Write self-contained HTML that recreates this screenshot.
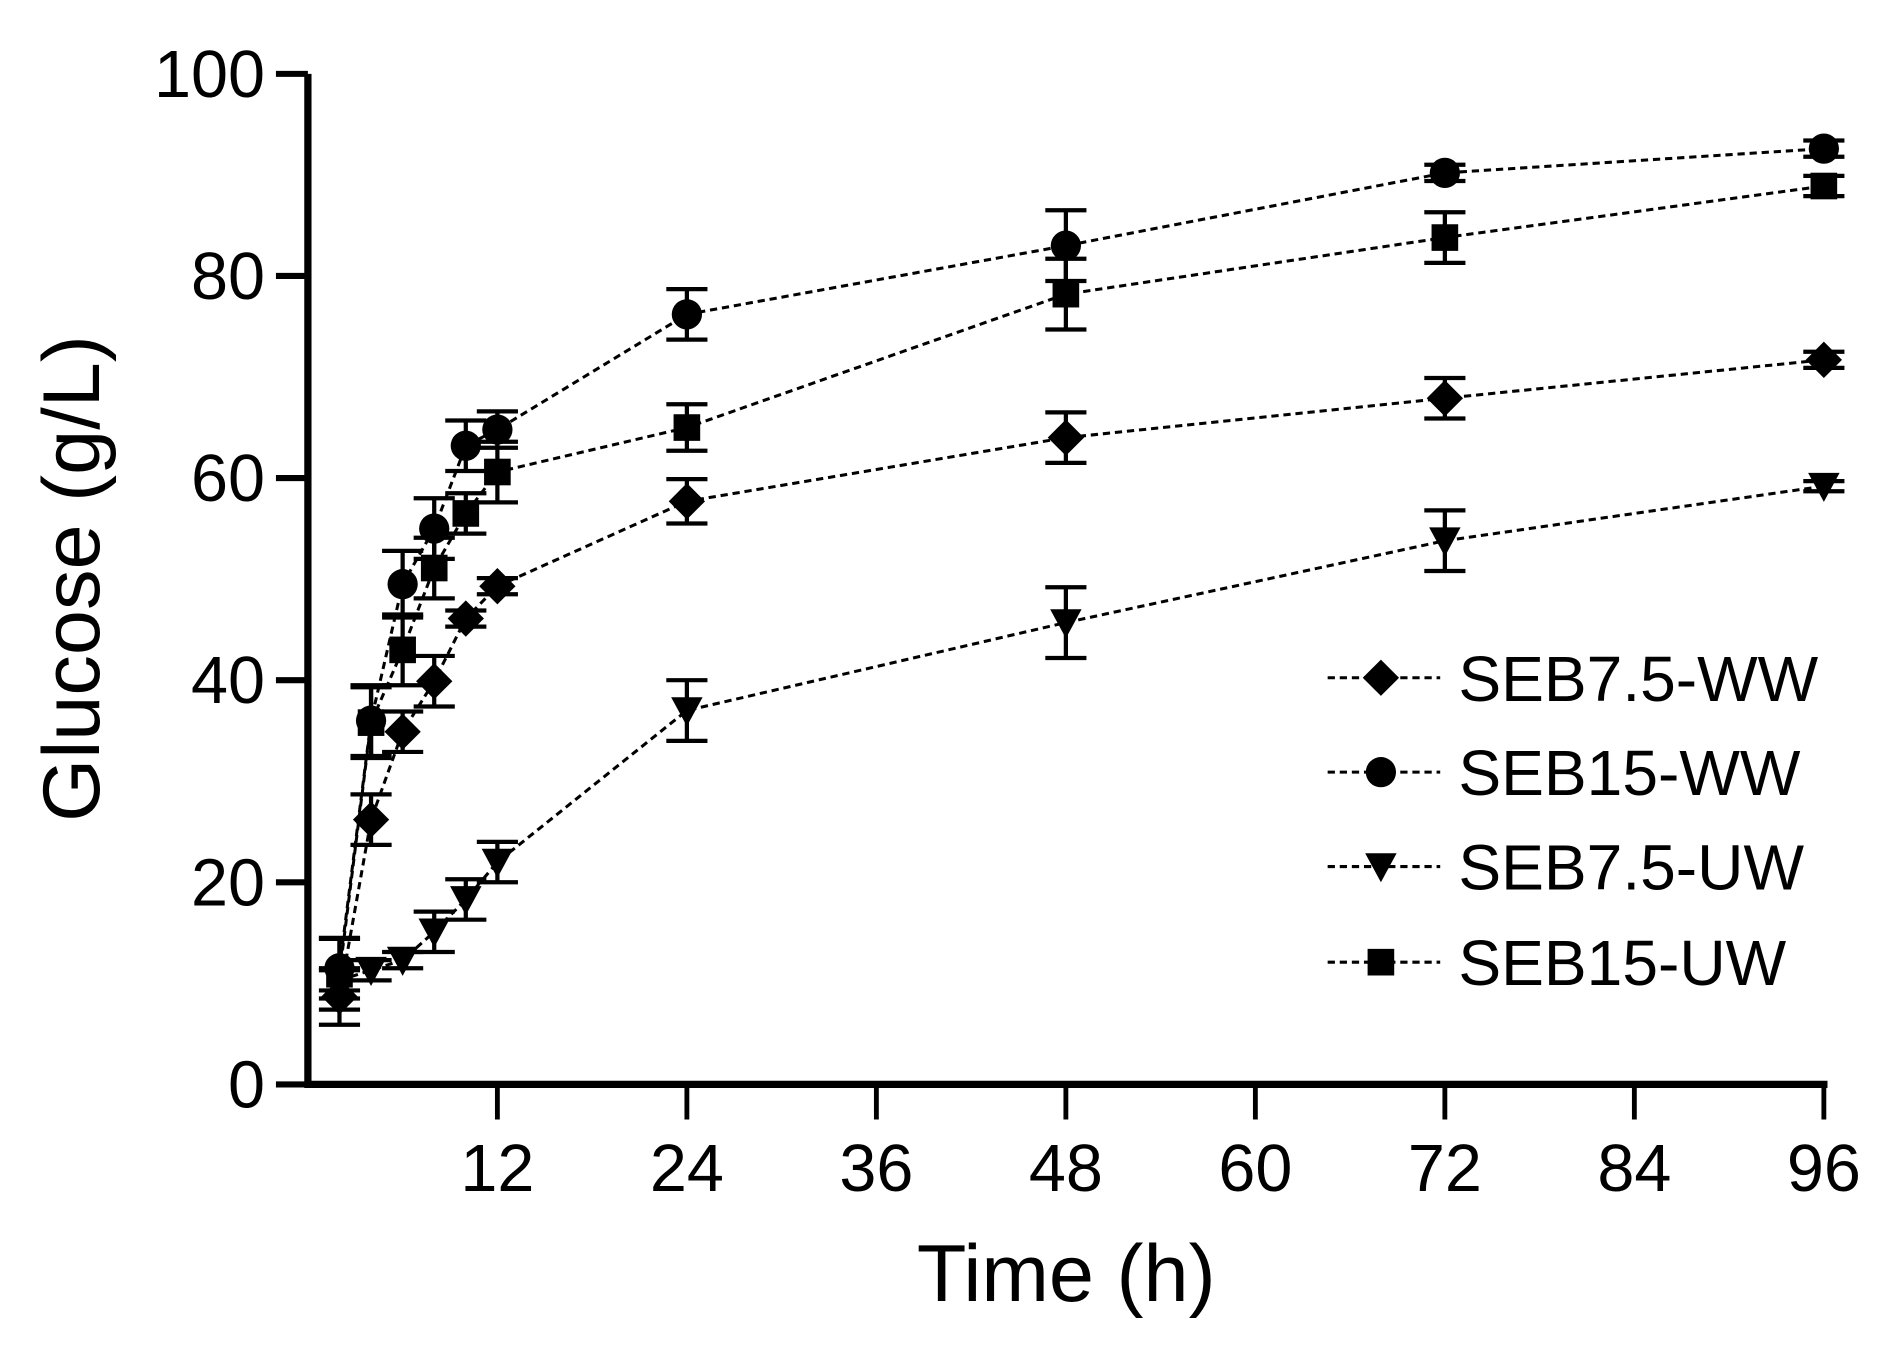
<!DOCTYPE html>
<html><head><meta charset="utf-8"><style>
html,body{margin:0;padding:0;background:#fff;}
svg{display:block;font-family:"Liberation Sans",Arial,sans-serif;}
</style></head><body>
<svg id="chart" width="1888" height="1349" viewBox="0 0 1560 1114.6" xmlns="http://www.w3.org/2000/svg">
<g id="plot"></g>
</svg>
<script>
const times = [2,4,6,8,10,12,24,48,72,96];
const seriesNames = ["SEB7.5-WW","SEB15-WW","SEB7.5-UW","SEB15-UW"];
const seb75ww = [8.7,26.2,34.9,39.9,46.1,49.3,57.7,64.0,67.9,71.7];
const seb75wwErr = [2.8,2.5,2.0,2.5,0.8,0.8,2.2,2.5,2.0,0.8];
const seb15ww = [11.5,36.0,49.5,55.0,63.2,64.8,76.2,83.0,90.2,92.6];
const seb15wwErr = [3.0,3.5,3.3,3.0,2.5,1.8,2.5,3.5,0.8,0.8];
const seb75uw = [10.3,11.3,12.3,15.1,18.3,22.0,37.0,45.7,53.8,59.2];
const seb75uwErr = [1.0,1.0,0.8,2.0,2.0,2.0,3.0,3.5,3.0,0.5];
const seb15uw = [10.9,35.8,43.0,51.1,56.5,60.6,65.0,78.2,83.8,88.9];
const seb15uwErr = [3.5,3.5,3.5,3.0,2.0,3.0,2.3,3.5,2.5,1.0];
const xTicks = [12,24,36,48,60,72,84,96];
const yTicks = [0,20,40,60,80,100];

const NS="http://www.w3.org/2000/svg";
const g=document.getElementById('plot');
const X0=254.4, XS=(1507-254.4)/96, Y0=896, YS=(896-61)/100;
const xp=t=>X0+t*XS, yp=v=>Y0-v*YS;
function mk(tag,attrs,parent){const e=document.createElementNS(NS,tag);for(const k in attrs)e.setAttribute(k,attrs[k]);(parent||g).appendChild(e);return e;}

function marker(shape,cx,cy,parent){
  let e;
  if(shape==='diamond') e=mk('polygon',{points:`${cx},${cy-15} ${cx+15},${cy} ${cx},${cy+15} ${cx-15},${cy}`,fill:'#000'},parent);
  else if(shape==='circle') e=mk('circle',{cx:cx,cy:cy,r:12.5,fill:'#000'},parent);
  else if(shape==='tri') e=mk('polygon',{points:`${cx-13},${cy-11} ${cx+13},${cy-11} ${cx},${cy+13}`,fill:'#000'},parent);
  else e=mk('rect',{x:cx-11,y:cy-11,width:22,height:22,fill:'#000'},parent);
  return e;
}

const all=[[seb75ww,seb75wwErr,'diamond'],[seb15ww,seb15wwErr,'circle'],[seb75uw,seb75uwErr,'tri'],[seb15uw,seb15uwErr,'square']];
const keys=['seb75-ww','seb15-ww','seb75-uw','seb15-uw'];
all.forEach((s,si)=>{
  const grp=mk('g',{});
  
  
  const pts=times.map((t,i)=>xp(t)+','+yp(s[0][i])).join(' ');
  const line=mk('polyline',{points:pts,fill:'none',stroke:'#000','stroke-width':2.5,'stroke-dasharray':'6 4'},grp);
  
  
  times.forEach((t,i)=>{
    const cx=xp(t),v=s[0][i],e=s[1][i];
    const eb=mk('path',{d:`M${cx},${yp(v+e)}V${yp(v-e)}M${cx-17},${yp(v+e)}H${cx+17}M${cx-17},${yp(v-e)}H${cx+17}`,stroke:'#000','stroke-width':3.5,fill:'none'},grp);
    
    
    const m=marker(s[2],cx,yp(v),grp);
    
    
  });
});

// axes
const ax=mk('path',{d:`M${X0},61V${Y0+3}M${X0-3},${Y0}H${xp(96)+3}`,stroke:'#000','stroke-width':6,fill:'none'});


yTicks.forEach(v=>{
  const t=mk('line',{x1:228,x2:X0,y1:yp(v),y2:yp(v),stroke:'#000','stroke-width':5});
  
  
  const l=mk('text',{x:219,y:yp(v)+19,'text-anchor':'end','font-size':55});
  l.textContent=v;
  
  
});
xTicks.forEach(v=>{
  const t=mk('line',{x1:xp(v),x2:xp(v),y1:Y0,y2:925,stroke:'#000','stroke-width':4});
  
  
  const l=mk('text',{x:xp(v),y:984,'text-anchor':'middle','font-size':55});
  l.textContent=v;
  
  
});
const xt=mk('text',{x:881,y:1075,'text-anchor':'middle','font-size':67});
xt.textContent='Time (h)';


const yt=mk('text',{x:0,y:0,'text-anchor':'middle','font-size':67,transform:'translate(82,478) rotate(-90)'});
yt.textContent='Glucose (g/L)';



// legend
const legY=[560,638,716,795];
seriesNames.forEach((n,i)=>{
  const lg=mk('g',{});
  
  
  mk('line',{x1:1097,x2:1190,y1:legY[i],y2:legY[i],stroke:'#000','stroke-width':2.5,'stroke-dasharray':'6 4'},lg);
  marker(all[i][2],1141,legY[i],lg);
  const t=mk('text',{x:1205,y:legY[i]+19,'font-size':53},lg);
  t.textContent=n;
});
</script>
</body></html>
